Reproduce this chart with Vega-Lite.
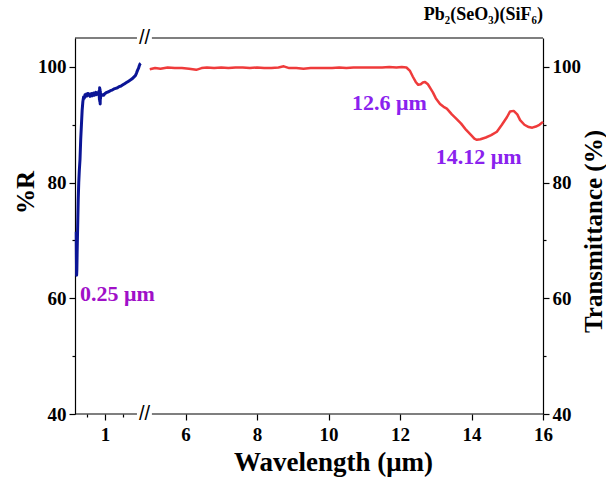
{
  "$schema": "https://vega.github.io/schema/vega-lite/v6.json",
  "width": 468,
  "height": 376,
  "autosize": {"type": "none"},
  "padding": {"left": 75, "top": 38, "right": 63, "bottom": 67},
  "background": "white",
  "title": {"text": "Pb₂(SeO₃)(SiF₆)", "anchor": "end", "frame": "group", "font": "Liberation Serif", "fontSize": 18, "fontWeight": "bold", "color": "black", "offset": 4},
  "config": {
    "view": {"stroke": null},
    "axis": {"grid": false, "domainColor": "black", "tickColor": "black", "labelColor": "black", "titleColor": "black", "labelFont": "Liberation Serif", "titleFont": "Liberation Serif", "labelFontWeight": "bold", "titleFontWeight": "bold", "labelFontSize": 19, "titleFontSize": 25, "domainWidth": 1.2, "tickWidth": 1.2, "labelFlush": false, "labelOverlap": false}
  },
  "data": {"values": [{"frame": 1}]},
  "datasets": {
    "reflectance": [
      {"x": 0.195, "y": 71.5}, {"x": 0.2, "y": 67}, {"x": 0.205, "y": 64}, {"x": 0.212, "y": 65}, {"x": 0.22, "y": 68},
      {"x": 0.23, "y": 71}, {"x": 0.24, "y": 74}, {"x": 0.25, "y": 77}, {"x": 0.265, "y": 80}, {"x": 0.28, "y": 82},
      {"x": 0.3, "y": 84}, {"x": 0.32, "y": 87.5}, {"x": 0.34, "y": 90}, {"x": 0.36, "y": 92.5}, {"x": 0.38, "y": 94},
      {"x": 0.4, "y": 94.8}, {"x": 0.42, "y": 94.6}, {"x": 0.44, "y": 95.2}, {"x": 0.46, "y": 94.9}, {"x": 0.48, "y": 95.3},
      {"x": 0.5, "y": 95.0}, {"x": 0.52, "y": 95.4}, {"x": 0.54, "y": 95.1}, {"x": 0.56, "y": 95.3}, {"x": 0.58, "y": 94.9},
      {"x": 0.6, "y": 95.2}, {"x": 0.62, "y": 95.4}, {"x": 0.64, "y": 95.0}, {"x": 0.66, "y": 95.3}, {"x": 0.68, "y": 95.5},
      {"x": 0.7, "y": 95.1}, {"x": 0.72, "y": 95.4}, {"x": 0.74, "y": 95.6}, {"x": 0.76, "y": 95.2}, {"x": 0.78, "y": 95.5},
      {"x": 0.8, "y": 95.3}, {"x": 0.83, "y": 95.8}, {"x": 0.845, "y": 94.3}, {"x": 0.85, "y": 96.4}, {"x": 0.855, "y": 94.0},
      {"x": 0.86, "y": 96.2}, {"x": 0.865, "y": 93.6}, {"x": 0.87, "y": 95.8}, {"x": 0.875, "y": 94.5}, {"x": 0.88, "y": 95.3},
      {"x": 0.9, "y": 95.0}, {"x": 0.93, "y": 95.2}, {"x": 0.96, "y": 95.1}, {"x": 1.0, "y": 95.4}, {"x": 1.05, "y": 95.6},
      {"x": 1.1, "y": 95.7}, {"x": 1.15, "y": 95.9}, {"x": 1.2, "y": 96.0}, {"x": 1.25, "y": 96.2}, {"x": 1.3, "y": 96.3},
      {"x": 1.35, "y": 96.4}, {"x": 1.4, "y": 96.6}, {"x": 1.45, "y": 96.7}, {"x": 1.5, "y": 96.9}, {"x": 1.55, "y": 97.1},
      {"x": 1.6, "y": 97.3}, {"x": 1.65, "y": 97.5}, {"x": 1.7, "y": 97.7}, {"x": 1.75, "y": 97.9}, {"x": 1.8, "y": 98.2},
      {"x": 1.85, "y": 98.5}, {"x": 1.88, "y": 98.9}, {"x": 1.91, "y": 99.4}, {"x": 1.94, "y": 99.8}, {"x": 1.96, "y": 100.2},
      {"x": 1.98, "y": 100.5}, {"x": 2.0, "y": 100.6}
    ],
    "transmittance": [
      {"x": 5.0, "y": 99.6}, {"x": 5.15, "y": 99.8}, {"x": 5.3, "y": 99.7}, {"x": 5.5, "y": 99.9}, {"x": 5.7, "y": 99.8},
      {"x": 5.9, "y": 99.8}, {"x": 6.1, "y": 99.7}, {"x": 6.3, "y": 99.5}, {"x": 6.45, "y": 99.8}, {"x": 6.6, "y": 99.9},
      {"x": 6.8, "y": 99.8}, {"x": 7.0, "y": 99.9}, {"x": 7.2, "y": 99.8}, {"x": 7.4, "y": 99.9}, {"x": 7.6, "y": 99.9},
      {"x": 7.8, "y": 99.8}, {"x": 8.0, "y": 99.9}, {"x": 8.2, "y": 99.8}, {"x": 8.4, "y": 99.8}, {"x": 8.6, "y": 99.9},
      {"x": 8.75, "y": 100.1}, {"x": 8.9, "y": 99.8}, {"x": 9.1, "y": 99.8}, {"x": 9.3, "y": 99.7}, {"x": 9.5, "y": 99.8},
      {"x": 9.7, "y": 99.8}, {"x": 9.9, "y": 99.8}, {"x": 10.1, "y": 99.8}, {"x": 10.3, "y": 99.9}, {"x": 10.5, "y": 99.8},
      {"x": 10.7, "y": 99.9}, {"x": 10.9, "y": 99.9}, {"x": 11.1, "y": 99.9}, {"x": 11.3, "y": 99.9}, {"x": 11.5, "y": 99.9},
      {"x": 11.7, "y": 100.0}, {"x": 11.9, "y": 99.9}, {"x": 12.05, "y": 100.0}, {"x": 12.18, "y": 99.9}, {"x": 12.28, "y": 99.3},
      {"x": 12.36, "y": 98.3}, {"x": 12.44, "y": 97.4}, {"x": 12.51, "y": 96.9}, {"x": 12.58, "y": 97.0}, {"x": 12.64, "y": 97.3},
      {"x": 12.7, "y": 97.4}, {"x": 12.78, "y": 97.0}, {"x": 12.86, "y": 96.2}, {"x": 12.92, "y": 95.6}, {"x": 13.0, "y": 94.6},
      {"x": 13.12, "y": 93.6}, {"x": 13.22, "y": 93.1}, {"x": 13.31, "y": 92.8}, {"x": 13.45, "y": 91.8}, {"x": 13.6, "y": 90.9},
      {"x": 13.71, "y": 90.2}, {"x": 13.85, "y": 89.1}, {"x": 13.99, "y": 88.2}, {"x": 14.08, "y": 87.6}, {"x": 14.15, "y": 87.4},
      {"x": 14.25, "y": 87.5}, {"x": 14.4, "y": 87.8}, {"x": 14.55, "y": 88.2}, {"x": 14.71, "y": 88.8}, {"x": 14.85, "y": 90.0},
      {"x": 14.99, "y": 91.3}, {"x": 15.08, "y": 92.3}, {"x": 15.18, "y": 92.4}, {"x": 15.28, "y": 91.8}, {"x": 15.36, "y": 90.8},
      {"x": 15.48, "y": 90.0}, {"x": 15.6, "y": 89.6}, {"x": 15.7, "y": 89.5}, {"x": 15.8, "y": 89.7}, {"x": 15.9, "y": 90.0},
      {"x": 16.0, "y": 90.5}
    ],
    "uvLabel": [{"label": "0.25 μm", "x": 0.3, "y": 60.7}],
    "irLabels": [{"label": "12.6 μm", "x": 10.66, "y": 93.7}, {"label": "14.12 μm", "x": 13.0, "y": 84.4}]
  },
  "layer": [
    {
      "data": {"name": "reflectance"},
      "mark": {"type": "line", "color": "#0b1596", "strokeWidth": 3, "strokeJoin": "round"},
      "encoding": {
        "x": {
          "field": "x", "type": "quantitative",
          "scale": {"domain": [0.16, 2.05, 5, 16], "range": [0, 67.5, 74.75, 468], "nice": false, "zero": false},
          "axis": {
            "title": "Wavelength (μm)",
            "values": [0.5, 1, 1.5, 6, 8, 10, 12, 14, 16],
            "labelExpr": "datum.value == 0.5 || datum.value == 1.5 ? '' : datum.label",
            "tickSize": {"condition": {"test": "datum.value == 0.5 || datum.value == 1.5", "value": 3}, "value": 6},
            "domain": false,
            "labelPadding": 5,
            "titlePadding": 5,
            "titleFontSize": 27,
            "titleX": 258
          }
        },
        "y": {
          "field": "y", "type": "quantitative", "scale": {"domain": [40, 105], "nice": false, "zero": false},
          "axis": {
            "orient": "left", "title": "%R", "values": [40, 50, 60, 70, 80, 90, 100],
            "labelExpr": "datum.value % 20 == 0 ? datum.label : ''",
            "tickSize": {"condition": {"test": "datum.value % 20 != 0", "value": 3}, "value": 6},
            "labelPadding": 3, "titleX": -50, "titleY": 154, "titleBaseline": "middle", "titleAngle": 270
          }
        }
      }
    },
    {
      "data": {"name": "transmittance"},
      "mark": {"type": "line", "color": "#ef3b3b", "strokeWidth": 2.5, "strokeJoin": "round"},
      "encoding": {
        "x": {"field": "x", "type": "quantitative"},
        "y": {
          "field": "y", "type": "quantitative", "scale": {"domain": [40, 105], "nice": false, "zero": false},
          "axis": {
            "orient": "right", "title": "Transmittance (%)", "titleAngle": 270, "values": [40, 50, 60, 70, 80, 90, 100],
            "labelExpr": "datum.value % 20 == 0 ? datum.label : ''",
            "tickSize": {"condition": {"test": "datum.value % 20 != 0", "value": 3}, "value": 6},
            "labelPadding": 3, "titleX": 50, "titleY": 193, "titleBaseline": "middle"
          }
        }
      }
    },
    {
      "mark": {"type": "rule", "color": "black", "strokeWidth": 1.2},
      "encoding": {"x": {"datum": 0.16, "type": "quantitative"}, "x2": {"datum": 1.895}, "y": {"datum": 105, "type": "quantitative", "axis": null}}
    },
    {
      "mark": {"type": "rule", "color": "black", "strokeWidth": 1.2},
      "encoding": {"x": {"datum": 5.06, "type": "quantitative"}, "x2": {"datum": 16}, "y": {"datum": 105, "type": "quantitative", "axis": null}}
    },
    {
      "mark": {"type": "rule", "color": "black", "strokeWidth": 1.2},
      "encoding": {"x": {"datum": 0.16, "type": "quantitative"}, "x2": {"datum": 1.895}, "y": {"datum": 40, "type": "quantitative", "axis": null}}
    },
    {
      "mark": {"type": "rule", "color": "black", "strokeWidth": 1.2},
      "encoding": {"x": {"datum": 5.06, "type": "quantitative"}, "x2": {"datum": 16}, "y": {"datum": 40, "type": "quantitative", "axis": null}}
    },
    {
      "mark": {"type": "text", "text": "//", "font": "Liberation Sans", "fontSize": 20, "color": "black", "baseline": "middle", "align": "center"},
      "encoding": {"x": {"datum": 2.86, "type": "quantitative"}, "y": {"datum": 105, "type": "quantitative", "axis": null}}
    },
    {
      "mark": {"type": "text", "text": "//", "font": "Liberation Sans", "fontSize": 20, "color": "black", "baseline": "middle", "align": "center"},
      "encoding": {"x": {"datum": 2.86, "type": "quantitative"}, "y": {"datum": 40, "type": "quantitative", "axis": null}}
    },
    {
      "data": {"name": "uvLabel"},
      "mark": {"type": "text", "font": "Liberation Serif", "fontWeight": "bold", "fontSize": 22, "color": "#a010c8", "align": "left", "baseline": "middle"},
      "encoding": {"x": {"field": "x", "type": "quantitative"}, "y": {"field": "y", "type": "quantitative", "axis": null}, "text": {"field": "label"}}
    },
    {
      "data": {"name": "irLabels"},
      "mark": {"type": "text", "font": "Liberation Serif", "fontWeight": "bold", "fontSize": 22, "color": "#8a22ee", "align": "left", "baseline": "middle"},
      "encoding": {"x": {"field": "x", "type": "quantitative"}, "y": {"field": "y", "type": "quantitative", "axis": null}, "text": {"field": "label"}}
    }
  ],
  "resolve": {"axis": {"y": "independent"}}
}
